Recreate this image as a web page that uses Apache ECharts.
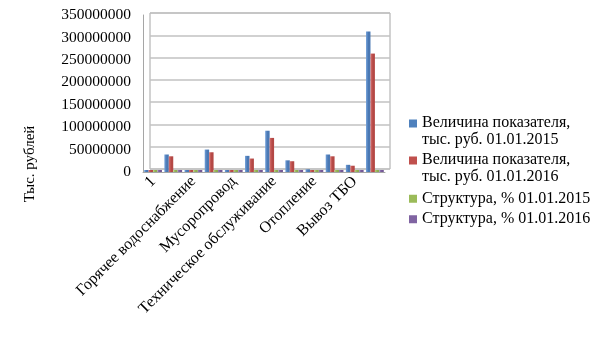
<!DOCTYPE html>
<html>
<head>
<meta charset="utf-8">
<script src="https://cdn.jsdelivr.net/npm/echarts@6/dist/echarts.min.js"></script>
<style>
  html, body { margin: 0; padding: 0; background: #ffffff; }
  #chart { width: 605px; height: 340px; }
</style>
</head>
<body>
<div id="chart"></div>
<script>
// Категории (подписи показываются через одну)
var categories = [
  '1',
  'Содержание общего имущества',
  'Горячее водоснабжение',
  'Текущий ремонт',
  'Мусоропровод',
  'Управление',
  'Техническое обслуживание',
  'Электроснабжение',
  'Отопление',
  'Холодное водоснабжение',
  'Вывоз ТБО',
  'Итого'
];

// Величина показателя, тыс. руб.
var value2015 = [1500000, 39000000, 1500000, 50000000, 600000, 36000000, 92000000, 26000000, 6000000, 39000000, 16000000, 313000000];
var value2016 = [1200000, 35000000, 1000000, 44000000, 500000, 30000000, 76000000, 24000000, 1500000, 35000000, 14000000, 264000000];

// Структура, %
var share2015 = [0.5, 12.2, 0.5, 15.8, 0.2, 11.3, 28.9, 8.0, 1.9, 12.2, 5.1, 100];
var share2016 = [0.5, 12.9, 0.4, 16.3, 0.2, 11.0, 28.1, 8.7, 0.6, 12.9, 5.3, 100];

var yTicks = { min: 0, max: 350000000, interval: 50000000 };

var seriesNames = [
  'Величина показателя,\nтыс. руб. 01.01.2015',
  'Величина показателя,\nтыс. руб. 01.01.2016',
  'Структура, % 01.01.2015',
  'Структура, % 01.01.2016'
];

var FONT = '"Liberation Serif", "DejaVu Serif", serif';

function shade(light, dark) {
  return new echarts.graphic.LinearGradient(0, 0, 1, 0, [
    { offset: 0, color: light },
    { offset: 0.55, color: dark },
    { offset: 1, color: dark }
  ]);
}

var palette = [
  shade('#6f9ed8', '#4a78b3'),
  shade('#d9716e', '#b44845'),
  shade('#b4d27a', '#8fae50'),
  shade('#9a80bd', '#735896')
];
var flatColors = ['#4F81BD', '#C0504D', '#9BBB59', '#8064A2'];

var dataSets = [value2015, value2016, share2015, share2016];

var chart = echarts.init(document.getElementById('chart'), null, { renderer: 'canvas' });

var series = dataSets.map(function (d, i) {
  return {
    name: seriesNames[i],
    type: 'bar',
    xAxisIndex: 0,
    yAxisIndex: 0,
    data: d,
    barGap: '0%',
    barCategoryGap: '12%',
    barMinHeight: 2,
    itemStyle: { color: palette[i] },
    emphasis: { disabled: true }
  };
});

// Пустая серия для задней стенки с сеткой
series.push({
  type: 'bar',
  xAxisIndex: 1,
  yAxisIndex: 1,
  data: [],
  silent: true
});

// Квадратный значок на уровне первой строки двухстрочного элемента легенды
var topSquare = 'path://M0,0 h0.01 M0,4.5 h8 v8 h-8 Z M0,33 h0.01';

var legendText = { fontFamily: FONT, fontSize: 16, color: '#000000', lineHeight: 16.5 };

chart.setOption({
  animation: false,
  backgroundColor: '#ffffff',
  color: flatColors,
  grid: [
    { left: 143, right: 220, top: 15, bottom: 168, containLabel: false },
    { left: 150, right: 215, top: 13, bottom: 171, containLabel: false,
      show: true, borderColor: '#a6a6a6', borderWidth: 1, backgroundColor: 'transparent' }
  ],
  xAxis: [
    {
      type: 'category',
      gridIndex: 0,
      data: categories,
      axisLine: { show: true, lineStyle: { color: '#a6a6a6' } },
      axisTick: { show: false },
      axisLabel: {
        interval: 1,
        rotate: 45,
        margin: 7,
        fontFamily: FONT,
        fontSize: 16,
        color: '#000000'
      }
    },
    {
      type: 'category',
      gridIndex: 1,
      data: categories,
      axisLine: { show: false },
      axisTick: { show: false },
      axisLabel: { show: false }
    }
  ],
  yAxis: [
    {
      type: 'value',
      gridIndex: 0,
      min: yTicks.min,
      max: yTicks.max,
      interval: yTicks.interval,
      axisLine: { show: true, lineStyle: { color: '#a6a6a6' } },
      axisTick: { show: false },
      splitLine: { show: false },
      axisLabel: {
        margin: 12,
        fontFamily: FONT,
        fontSize: 15.5,
        color: '#000000',
        formatter: function (v) { return String(v); }
      }
    },
    {
      type: 'value',
      gridIndex: 1,
      min: yTicks.min,
      max: yTicks.max,
      interval: yTicks.interval,
      axisLine: { show: false },
      axisTick: { show: false },
      axisLabel: { show: false },
      splitLine: { show: true, lineStyle: { color: '#c2c2c2', width: 1.5 } }
    }
  ],
  legend: [
    {
      orient: 'vertical',
      left: 409,
      top: 115,
      padding: 0,
      itemWidth: 8,
      itemHeight: 33,
      itemGap: 4,
      selectedMode: false,
      data: [
        { name: seriesNames[0], icon: topSquare, itemStyle: { color: flatColors[0] } },
        { name: seriesNames[1], icon: topSquare, itemStyle: { color: flatColors[1] } }
      ],
      textStyle: legendText
    },
    {
      orient: 'vertical',
      left: 409,
      top: 190.5,
      padding: 0,
      itemWidth: 8,
      itemHeight: 8,
      itemGap: 4,
      selectedMode: false,
      data: [
        { name: seriesNames[2], icon: 'rect', itemStyle: { color: flatColors[2] } },
        { name: seriesNames[3], icon: 'rect', itemStyle: { color: flatColors[3] } }
      ],
      textStyle: legendText
    }
  ],
  graphic: [
    {
      type: 'text',
      x: 30,
      y: 164,
      rotation: Math.PI / 2,
      style: {
        text: 'Тыс. рублей',
        fontFamily: FONT,
        fontSize: 15,
        fill: '#000000',
        align: 'center',
        verticalAlign: 'middle'
      }
    }
  ],
  series: series
});
</script>
</body>
</html>
